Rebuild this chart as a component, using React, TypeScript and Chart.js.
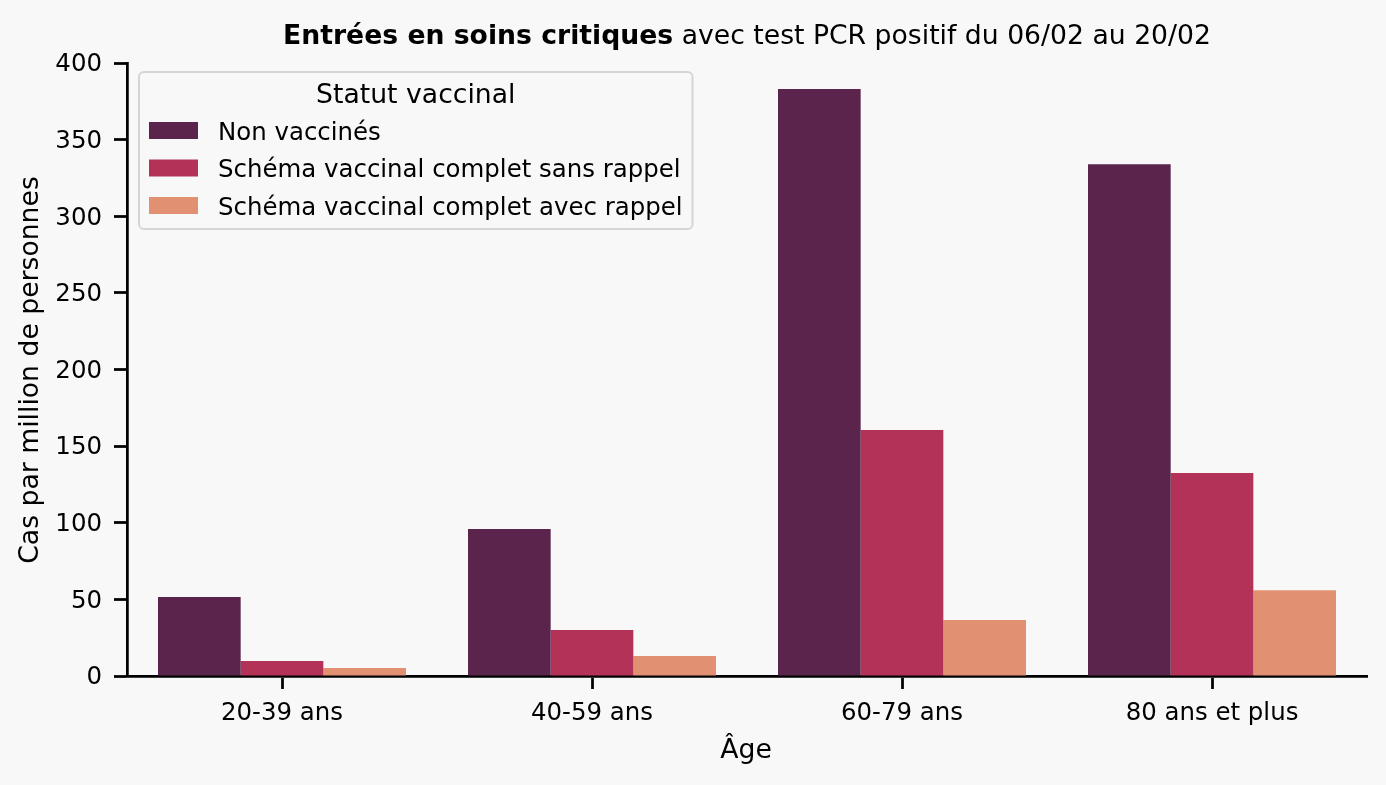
import React, { useEffect, useRef } from 'react';
import { Chart, registerables } from 'chart.js';

Chart.register(...registerables);

const categories = ['20-39 ans', '40-59 ans', '60-79 ans', '80 ans et plus'];
const seriesLabels = [
  'Non vaccinés',
  'Schéma vaccinal complet sans rappel',
  'Schéma vaccinal complet avec rappel',
];
const nonVaccines = [51.5, 96, 383, 334];
const sansRappel = [9.8, 30, 160.5, 132.5];
const avecRappel = [5.2, 13, 36.5, 56];
const seriesColors = ['#5a244c', '#b33258', '#e29072'];
const yMin = 0;
const yMax = 400;
const yStep = 50;
const titleBold = 'Entrées en soins critiques';
const titleRest = ' avec test PCR positif du 06/02 au 20/02';
const legendTitle = 'Statut vaccinal';
const xTitle = 'Âge';
const yTitle = 'Cas par million de personnes';

const FONT = "'DejaVu Sans', sans-serif";
const BG = '#f8f8f8';
const SMALL = 24.44;
const LARGE = 26.67;

const bgPlugin = {
  id: 'bg',
  beforeDraw(chart: any) {
    const ctx = chart.ctx;
    ctx.save();
    ctx.fillStyle = BG;
    ctx.fillRect(0, 0, chart.width, chart.height);
    ctx.restore();
  },
};

const textPlugin = {
  id: 'texts',
  afterDraw(chart: any) {
    const ctx = chart.ctx;
    const area = chart.chartArea;
    const cx = (area.left + area.right) / 2;
    const cy = (area.top + area.bottom) / 2;
    ctx.save();
    ctx.fillStyle = '#000';
    ctx.textBaseline = 'alphabetic';
    ctx.textAlign = 'left';
    // title with bold prefix
    ctx.font = `bold ${LARGE}px ${FONT}`;
    const wb = ctx.measureText(titleBold).width;
    ctx.font = `${LARGE}px ${FONT}`;
    const wr = ctx.measureText(titleRest).width;
    const x0 = cx - (wb + wr) / 2;
    ctx.font = `bold ${LARGE}px ${FONT}`;
    ctx.fillText(titleBold, x0, 44);
    ctx.font = `${LARGE}px ${FONT}`;
    ctx.fillText(titleRest, x0 + wb, 44);
    // x title
    ctx.textAlign = 'center';
    ctx.fillText(xTitle, cx - 1, 758);
    // y title
    ctx.save();
    ctx.translate(38, cy + 0.5);
    ctx.rotate(-Math.PI / 2);
    ctx.fillText(yTitle, 0, 0);
    ctx.restore();
    ctx.restore();
  },
};

const legendPlugin = {
  id: 'boxLegend',
  afterDraw(chart: any) {
    const ctx = chart.ctx;
    const area = chart.chartArea;
    const left = area.left + 12;
    const top = area.top + 9;
    ctx.save();
    ctx.font = `${SMALL}px ${FONT}`;
    let maxW = 0;
    chart.data.datasets.forEach((d: any) => {
      maxW = Math.max(maxW, ctx.measureText(d.label).width);
    });
    const width = 79 + maxW + 10;
    const height = 157;
    const r = 5;
    ctx.beginPath();
    ctx.moveTo(left + r, top);
    ctx.lineTo(left + width - r, top);
    ctx.arcTo(left + width, top, left + width, top + r, r);
    ctx.lineTo(left + width, top + height - r);
    ctx.arcTo(left + width, top + height, left + width - r, top + height, r);
    ctx.lineTo(left + r, top + height);
    ctx.arcTo(left, top + height, left, top + height - r, r);
    ctx.lineTo(left, top + r);
    ctx.arcTo(left, top, left + r, top, r);
    ctx.closePath();
    ctx.fillStyle = 'rgba(248,248,248,0.8)';
    ctx.fill();
    ctx.strokeStyle = 'rgba(204,204,204,0.8)';
    ctx.lineWidth = 2;
    ctx.stroke();

    ctx.fillStyle = '#000';
    ctx.font = `${LARGE}px ${FONT}`;
    ctx.textAlign = 'center';
    ctx.textBaseline = 'alphabetic';
    ctx.fillText(legendTitle, left + width / 2, top + 31.3);

    ctx.font = `${SMALL}px ${FONT}`;
    ctx.textAlign = 'left';
    chart.data.datasets.forEach((d: any, i: number) => {
      const rowC = top + 58.5 + i * 37.5;
      ctx.fillStyle = d.backgroundColor;
      ctx.fillRect(left + 10, rowC - 8.5, 49, 17);
      ctx.fillStyle = '#000';
      ctx.fillText(d.label, left + 79, rowC + 9);
    });
    ctx.restore();
  },
};

export default function App() {
  const ref = useRef<HTMLCanvasElement | null>(null);
  useEffect(() => {
    document.body.style.margin = '0';
    document.body.style.background = BG;
    if (!ref.current) return;
    const seriesValues = [nonVaccines, sansRappel, avecRappel];
    const chart = new Chart(ref.current, {
      type: 'bar',
      data: {
        labels: categories,
        datasets: seriesLabels.map((label, i) => ({
          label,
          data: seriesValues[i],
          backgroundColor: seriesColors[i],
          borderWidth: 0,
          barPercentage: 1,
          categoryPercentage: 0.8,
        })),
      },
      options: {
        responsive: false,
        animation: false,
        devicePixelRatio: 1,
        layout: { padding: { top: 63, right: 19, left: 0, bottom: 0 } },
        plugins: {
          legend: { display: false },
          title: { display: false },
          tooltip: { enabled: false },
        },
        scales: {
          x: {
            grid: {
              offset: false,
              drawOnChartArea: false,
              drawTicks: true,
              tickLength: 13,
              tickWidth: 2.75,
              tickColor: '#000',
            },
            border: { display: true, color: '#000', width: 2.75 },
            ticks: {
              color: '#000',
              font: { family: FONT, size: SMALL },
              padding: 10,
            },
            title: { display: false },
            afterFit: (s: any) => {
              s.height = 109;
            },
          },
          y: {
            min: yMin,
            max: yMax,
            grid: {
              drawOnChartArea: false,
              drawTicks: true,
              tickLength: 13,
              tickWidth: 2.75,
              tickColor: '#000',
            },
            border: { display: true, color: '#000', width: 2.75 },
            ticks: {
              stepSize: yStep,
              color: '#000',
              font: { family: FONT, size: SMALL },
              padding: 12,
              labelOffset: 2,
            },
            title: { display: false },
            afterFit: (s: any) => {
              s.width = 127;
            },
          },
        },
      },
      plugins: [bgPlugin, textPlugin, legendPlugin],
    });
    return () => chart.destroy();
  }, []);
  return (
    <div style={{ position: 'fixed', left: 0, top: 0, width: 1386, height: 785, background: BG }}>
      <canvas ref={ref} width={1386} height={785} style={{ display: 'block' }} />
    </div>
  );
}
